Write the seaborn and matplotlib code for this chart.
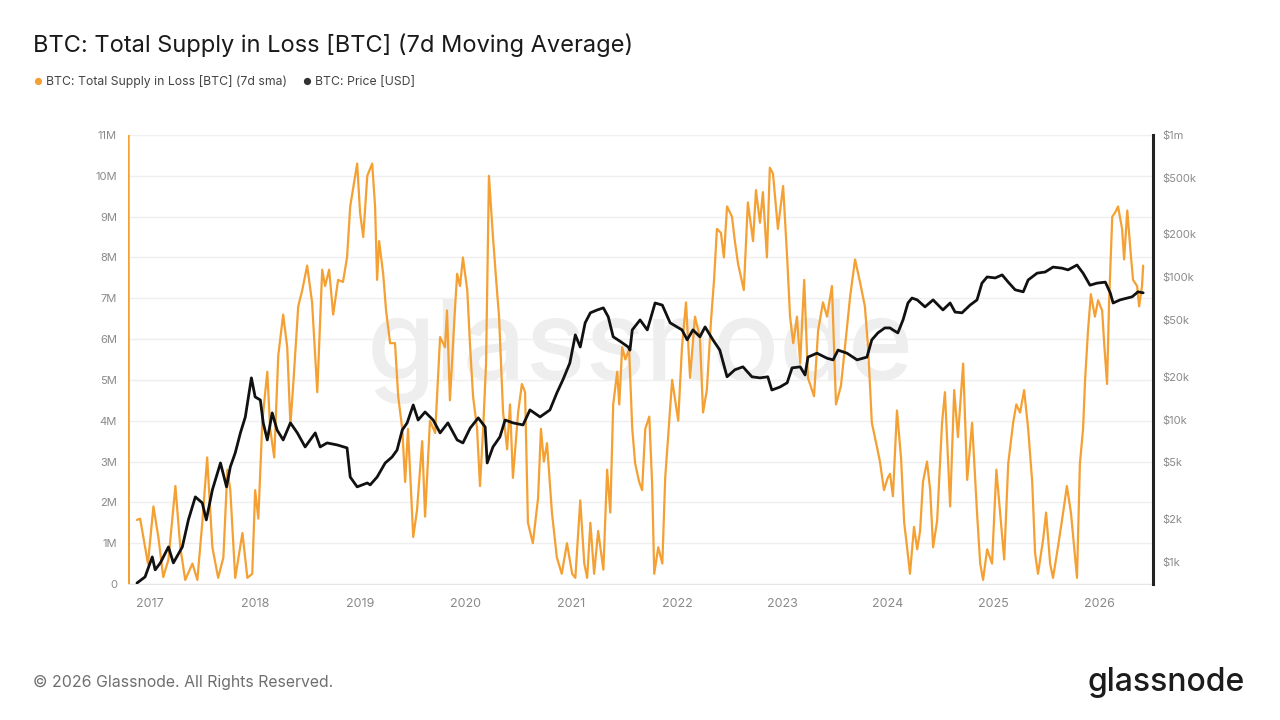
import matplotlib
matplotlib.use("Agg")
import matplotlib.pyplot as plt
import matplotlib.dates as mdates
import numpy as np
import pandas as pd
import seaborn as sns

# Total supply in loss (millions of BTC, 7d sma)
loss_dates = [
    "2016-11-19", "2016-11-30", "2016-12-17", "2016-12-27", "2017-01-15", "2017-02-01", "2017-02-18",
    "2017-03-08", "2017-04-01", "2017-04-18", "2017-05-05", "2017-05-30", "2017-06-16", "2017-07-03",
    "2017-07-20", "2017-08-07", "2017-08-27", "2017-09-14", "2017-09-28", "2017-10-08", "2017-10-25",
    "2017-11-19", "2017-12-06", "2017-12-23", "2018-01-02", "2018-01-13", "2018-01-27", "2018-02-13",
    "2018-02-23", "2018-03-09", "2018-03-23", "2018-04-09", "2018-04-23", "2018-05-04", "2018-05-14",
    "2018-05-31", "2018-06-14", "2018-07-01", "2018-07-18", "2018-08-05", "2018-08-22", "2018-09-01",
    "2018-09-15", "2018-09-29", "2018-10-16", "2018-11-02", "2018-11-16", "2018-11-27", "2018-12-21",
    "2018-12-31", "2019-01-11", "2019-01-25", "2019-02-11", "2019-02-21", "2019-02-28", "2019-03-07",
    "2019-03-21", "2019-03-31", "2019-04-14", "2019-05-01", "2019-05-12", "2019-05-26", "2019-06-05",
    "2019-06-15", "2019-07-03", "2019-07-16", "2019-08-03", "2019-08-13", "2019-08-30", "2019-09-17",
    "2019-10-04", "2019-10-21", "2019-10-28", "2019-11-07", "2019-11-25", "2019-12-02", "2019-12-12",
    "2019-12-22", "2020-01-06", "2020-01-16", "2020-01-26", "2020-02-09", "2020-02-19", "2020-03-01",
    "2020-03-11", "2020-03-21", "2020-04-04", "2020-04-15", "2020-04-25", "2020-05-09", "2020-05-23",
    "2020-06-02", "2020-06-12", "2020-06-30", "2020-07-13", "2020-07-24", "2020-08-03", "2020-08-20",
    "2020-09-07", "2020-09-17", "2020-09-27", "2020-10-08", "2020-10-25", "2020-11-11", "2020-11-28",
    "2020-12-16", "2021-01-03", "2021-01-14", "2021-01-31", "2021-02-14", "2021-02-24", "2021-03-07",
    "2021-03-20", "2021-04-03", "2021-04-21", "2021-05-04", "2021-05-15", "2021-05-25", "2021-06-08",
    "2021-06-15", "2021-06-25", "2021-07-06", "2021-07-19", "2021-07-30", "2021-08-09", "2021-08-23",
    "2021-09-02", "2021-09-13", "2021-09-27", "2021-10-07", "2021-10-14", "2021-10-28", "2021-11-11",
    "2021-11-21", "2021-12-05", "2021-12-15", "2022-01-05", "2022-01-18", "2022-02-01", "2022-02-15",
    "2022-03-04", "2022-03-21", "2022-04-01", "2022-04-14", "2022-04-28", "2022-05-09", "2022-05-19",
    "2022-06-02", "2022-06-12", "2022-06-23", "2022-07-10", "2022-07-20", "2022-07-31", "2022-08-20",
    "2022-09-03", "2022-09-21", "2022-10-01", "2022-10-15", "2022-10-25", "2022-11-08", "2022-11-18",
    "2022-11-29", "2022-12-16", "2023-01-03", "2023-01-17", "2023-01-27", "2023-02-07", "2023-02-20",
    "2023-03-03", "2023-03-17", "2023-03-30", "2023-04-20", "2023-05-04", "2023-05-21", "2023-06-04",
    "2023-06-21", "2023-07-05", "2023-07-22", "2023-08-05", "2023-08-23", "2023-09-09", "2023-09-26",
    "2023-10-13", "2023-10-24", "2023-11-06", "2023-11-24", "2023-12-04", "2023-12-18", "2023-12-31",
    "2024-01-08", "2024-01-18", "2024-02-01", "2024-02-15", "2024-02-26", "2024-03-07", "2024-03-17",
    "2024-03-31", "2024-04-11", "2024-04-21", "2024-05-01", "2024-05-15", "2024-05-26", "2024-06-05",
    "2024-06-19", "2024-07-06", "2024-07-16", "2024-08-03", "2024-08-17", "2024-08-30", "2024-09-17",
    "2024-10-01", "2024-10-18", "2024-11-04", "2024-11-15", "2024-11-25", "2024-12-09", "2024-12-26",
    "2025-01-10", "2025-01-23", "2025-02-06", "2025-02-20", "2025-03-09", "2025-03-20", "2025-04-02",
    "2025-04-16", "2025-04-30", "2025-05-14", "2025-05-24", "2025-06-03", "2025-06-21", "2025-07-01",
    "2025-07-15", "2025-07-25", "2025-08-11", "2025-08-29", "2025-09-11", "2025-09-25", "2025-10-06",
    "2025-10-16", "2025-10-26", "2025-11-06", "2025-11-13", "2025-11-23", "2025-12-03", "2025-12-17",
    "2025-12-28", "2026-01-11", "2026-01-18", "2026-01-28", "2026-02-04", "2026-02-15", "2026-02-25",
    "2026-03-07", "2026-03-21", "2026-03-28", "2026-04-08", "2026-04-21", "2026-04-28", "2026-05-12",
    "2026-05-19", "2026-05-29", "2026-06-02",
]
loss_values = [
    1.57, 1.6, 0.9, 0.5, 1.9, 1.15, 0.17,
    0.6, 2.4, 0.9, 0.1, 0.5, 0.1, 1.5,
    3.1, 0.9, 0.15, 0.65, 2.8, 2.3, 0.15,
    1.25, 0.15, 0.25, 2.3, 1.6, 4.0, 5.2,
    3.8, 3.1, 5.6, 6.6, 5.8, 3.9, 4.9,
    6.8, 7.2, 7.8, 6.9, 4.7, 7.7, 7.3,
    7.7, 6.6, 7.45, 7.4, 8.0, 9.25, 10.3,
    9.1, 8.5, 10.0, 10.3, 9.25, 7.45, 8.4,
    7.6, 6.7, 5.9, 5.9, 4.6, 3.8, 2.5,
    3.8, 1.15, 1.8, 3.5, 1.65, 4.0, 3.7,
    6.05, 5.8, 6.7, 4.5, 6.8, 7.6, 7.3,
    8.0, 7.2, 5.8, 4.6, 3.8, 2.4, 3.8,
    5.4, 10.0, 8.5, 7.45, 6.55, 4.2, 3.3,
    4.4, 2.6, 4.2, 4.9, 4.7, 1.5, 1.0,
    2.1, 3.8, 3.0, 3.45, 1.75, 0.65, 0.25,
    1.0, 0.25, 0.15, 2.05, 0.5, 0.15, 1.5,
    0.25, 1.3, 0.35, 2.8, 1.75, 4.4, 5.2,
    4.4, 5.8, 5.5, 5.75, 3.8, 2.95, 2.5,
    2.3, 3.8, 4.1, 2.4, 0.25, 0.9, 0.5,
    2.6, 4.0, 5.0, 4.0, 5.8, 6.9, 5.05,
    6.55, 6.05, 4.2, 4.75, 6.4, 7.45, 8.7,
    8.6, 8.0, 9.25, 9.0, 8.4, 7.85, 7.2,
    9.35, 8.4, 9.65, 8.85, 9.6, 8.0, 10.2,
    10.05, 8.7, 9.75, 8.0, 6.55, 5.9, 6.55,
    5.4, 7.45, 5.05, 4.6, 6.2, 6.9, 6.55,
    7.3, 4.4, 4.85, 5.8, 7.05, 7.95, 7.4,
    6.8, 5.8, 3.95, 3.35, 3.0, 2.3, 2.6,
    2.7, 2.15, 4.25, 3.1, 1.5, 0.9, 0.25,
    1.4, 0.85, 1.3, 2.5, 3.0, 2.3, 0.9,
    1.55, 3.95, 4.7, 1.9, 4.75, 3.6, 5.4,
    2.55, 3.95, 1.75, 0.5, 0.1, 0.85, 0.5,
    2.8, 1.75, 0.6, 2.95, 3.95, 4.4, 4.2,
    4.75, 3.8, 2.5, 0.75, 0.25, 1.1, 1.75,
    0.5, 0.15, 0.9, 1.75, 2.4, 1.75, 0.9,
    0.15, 2.95, 3.8, 5.0, 6.2, 7.1, 6.55,
    6.95, 6.7, 5.9, 4.9, 6.9, 9.0, 9.1,
    9.25, 8.7, 7.95, 9.15, 8.0, 7.45, 7.3,
    6.8, 7.3, 7.8,
]
# first print of the series: a lone spike at the start
spike_dates = ["2016-10-21", "2016-10-22"]
spike_values = [11.0, 0.0]

# BTC price (USD)
price_dates = [
    "2016-11-19", "2016-12-17", "2017-01-11", "2017-01-21", "2017-02-08", "2017-03-08", "2017-03-25",
    "2017-04-25", "2017-05-16", "2017-06-09", "2017-07-03", "2017-07-17", "2017-08-07", "2017-09-04",
    "2017-09-25", "2017-10-08", "2017-10-25", "2017-11-12", "2017-11-29", "2017-12-20", "2018-01-02",
    "2018-01-20", "2018-01-30", "2018-02-13", "2018-03-02", "2018-03-19", "2018-04-09", "2018-05-04",
    "2018-05-28", "2018-06-24", "2018-07-29", "2018-08-15", "2018-09-08", "2018-10-13", "2018-11-16",
    "2018-11-27", "2018-12-21", "2019-01-25", "2019-02-04", "2019-02-28", "2019-03-28", "2019-04-21",
    "2019-05-08", "2019-05-26", "2019-06-12", "2019-07-03", "2019-07-20", "2019-08-13", "2019-09-10",
    "2019-10-04", "2019-10-31", "2019-12-02", "2019-12-22", "2020-01-16", "2020-02-13", "2020-03-08",
    "2020-03-15", "2020-04-04", "2020-04-28", "2020-05-16", "2020-06-12", "2020-07-17", "2020-08-10",
    "2020-09-14", "2020-10-18", "2020-11-11", "2020-12-02", "2020-12-26", "2021-01-14", "2021-01-31",
    "2021-02-17", "2021-03-07", "2021-03-31", "2021-04-21", "2021-05-08", "2021-05-25", "2021-06-18",
    "2021-07-16", "2021-07-22", "2021-07-30", "2021-08-26", "2021-09-20", "2021-10-17", "2021-11-11",
    "2021-12-08", "2022-01-18", "2022-02-05", "2022-02-25", "2022-03-21", "2022-04-08", "2022-05-05",
    "2022-05-29", "2022-06-23", "2022-07-20", "2022-08-17", "2022-09-17", "2022-10-15", "2022-11-11",
    "2022-11-25", "2022-12-23", "2023-01-17", "2023-02-03", "2023-03-03", "2023-03-20", "2023-03-30",
    "2023-04-30", "2023-06-04", "2023-06-25", "2023-07-12", "2023-08-12", "2023-09-16", "2023-10-20",
    "2023-11-06", "2023-11-27", "2023-12-21", "2024-01-08", "2024-01-18", "2024-02-04", "2024-02-22",
    "2024-03-10", "2024-03-24", "2024-04-11", "2024-05-08", "2024-06-05", "2024-07-09", "2024-08-03",
    "2024-08-20", "2024-09-13", "2024-10-11", "2024-11-04", "2024-11-21", "2024-12-09", "2025-01-06",
    "2025-01-30", "2025-02-20", "2025-03-16", "2025-04-13", "2025-04-30", "2025-05-31", "2025-06-28",
    "2025-07-25", "2025-08-25", "2025-09-15", "2025-10-16", "2025-11-06", "2025-11-30", "2025-12-24",
    "2026-01-22", "2026-02-08", "2026-02-18", "2026-03-14", "2026-04-08", "2026-04-25", "2026-05-15",
    "2026-06-02",
]
price_values = [
    711, 785, 1085, 880, 985, 1275, 985,
    1275, 1975, 2865, 2600, 1975, 3210, 4960,
    3370, 4650, 5830, 8070, 10450, 19650, 14440,
    13740, 9490, 7200, 11150, 8450, 7200, 9490,
    8070, 6430, 8070, 6430, 6860, 6640, 6330,
    3950, 3370, 3590, 3480, 3950, 4960, 5470,
    6110, 8450, 9490, 12680, 9940, 11320, 9940,
    8070, 9490, 7200, 6860, 8720, 10290, 8880,
    4960, 6430, 7560, 9940, 9490, 9180, 11700,
    10450, 11700, 15400, 19050, 25000, 39400, 32400,
    47900, 56300, 59000, 61000, 52700, 38200, 35500,
    32400, 30800, 42700, 50200, 42700, 66000, 63800,
    47900, 42700, 36400, 42700, 38200, 44800, 36400,
    30800, 20000, 22400, 23500, 20000, 19650, 20000,
    16150, 16950, 18150, 23100, 23500, 20600, 27500,
    29300, 27000, 26300, 30800, 29300, 26300, 27500,
    36400, 40700, 44100, 44100, 42700, 40700, 50200,
    66000, 71500, 69400, 62000, 69400, 59000, 66000,
    57000, 56300, 63800, 69400, 91000, 100600, 99000,
    104000, 92500, 81700, 79100, 95800, 107000, 109000,
    118000, 116000, 112800, 122000, 107000, 88000, 91000,
    92500, 77800, 66000, 69400, 71500, 73000, 79100,
    77800,
]

left_ticks = [0, 1, 2, 3, 4, 5, 6, 7, 8, 9, 10, 11]
left_labels = ["0"] + [f"{v}M" for v in left_ticks[1:]]
right_ticks = [1e3, 2e3, 5e3, 1e4, 2e4, 5e4, 1e5, 2e5, 5e5, 1e6]
right_labels = ["$1k", "$2k", "$5k", "$10k", "$20k", "$50k", "$100k", "$200k", "$500k", "$1m"]

ORANGE = "#f4a033"
BLACK = "#111111"
GREY = "#8a8a8a"

sns.set_style("white")
plt.rcParams["font.family"] = ["Inter", "DejaVu Sans"]

loss = pd.DataFrame({"date": pd.to_datetime(loss_dates), "value": loss_values})
spike = pd.DataFrame({"date": pd.to_datetime(spike_dates), "value": spike_values})
price = pd.DataFrame({"date": pd.to_datetime(price_dates), "price": price_values})

fig = plt.figure(figsize=(12.8, 7.2), dpi=100)
ax = fig.add_axes([128 / 1280, 1 - 584 / 720, (1153 - 128) / 1280, (584 - 135) / 720])
ax.patch.set_alpha(0)

# faint watermark
ax.text(0.5, 0.52, "glassnode", transform=ax.transAxes, ha="center", va="center",
        fontsize=80, color="#eeeeee", fontweight="medium", zorder=0)

sns.lineplot(data=spike, x="date", y="value", ax=ax, color=ORANGE, linewidth=1.6, zorder=2)
sns.lineplot(data=loss, x="date", y="value", ax=ax, color=ORANGE, linewidth=1.6, zorder=2)

ax.set_ylim(0, 11)
ax.set_yticks(left_ticks)
ax.set_yticklabels(left_labels)
ax.set_xlim(pd.Timestamp("2016-10-19"), pd.Timestamp("2026-07-06"))
ax.xaxis.set_major_locator(mdates.YearLocator())
ax.xaxis.set_major_formatter(mdates.DateFormatter("%Y"))
ax.grid(axis="y", color="#efefef", linewidth=1)
ax.grid(axis="x", visible=False)
ax.set_xlabel("")
ax.set_ylabel("")
for s in ["top", "right", "left"]:
    ax.spines[s].set_visible(False)
ax.spines["bottom"].set_color("#e6e6e6")
ax.tick_params(axis="y", length=0, pad=8, labelsize=8, labelcolor=GREY)
ax.tick_params(axis="x", length=4, width=0.8, color="#dddddd", pad=6, labelsize=9, labelcolor=GREY)

ax2 = ax.twinx()
sns.lineplot(data=price, x="date", y="price", ax=ax2, color=BLACK, linewidth=2.0)
ax2.set_yscale("log")
ax2.set_ylim(700, 1e6)
ax2.set_yticks(right_ticks)
ax2.set_yticklabels(right_labels)
ax2.yaxis.set_minor_locator(matplotlib.ticker.NullLocator())
ax2.set_ylabel("")
ax2.grid(False)
for s in ["top", "left", "bottom"]:
    ax2.spines[s].set_visible(False)
ax2.spines["right"].set_color("#222222")
ax2.spines["right"].set_linewidth(2.2)
ax2.tick_params(axis="y", length=0, pad=7, labelsize=8, labelcolor=GREY)

# title, legend, footer
fig.text(33 / 1280, 1 - 45 / 720, "BTC: Total Supply in Loss [BTC] (7d Moving Average)",
         fontsize=17, color="#1a1a1a", va="center")
fig.text(38 / 1280, 1 - 82 / 720, "●", fontsize=7, color=ORANGE, va="center", ha="center")
fig.text(46 / 1280, 1 - 82 / 720, "BTC: Total Supply in Loss [BTC] (7d sma)",
         fontsize=8.8, color="#444444", va="center")
fig.text(307 / 1280, 1 - 82 / 720, "●", fontsize=7, color="#333333", va="center", ha="center")
fig.text(315 / 1280, 1 - 82 / 720, "BTC: Price [USD]", fontsize=8.8, color="#444444", va="center")
fig.text(33 / 1280, 1 - 682 / 720, "© 2026 Glassnode. All Rights Reserved.",
         fontsize=11.4, color="#6f6f6f", va="center")
fig.text(1245 / 1280, 1 - 683 / 720, "glassnode", fontsize=23, color="#1c1c1c",
         va="center", ha="right", fontweight="medium")

fig.savefig("out.png", dpi=100, facecolor="white")
